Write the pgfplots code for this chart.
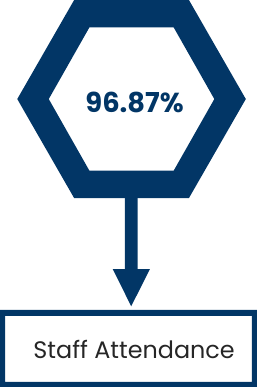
\documentclass[border=0pt]{standalone}
\usepackage{pgfplots}
\pgfplotsset{compat=1.18}
\usepackage{fontspec}
\setmainfont{Poppins}
\newfontfamily\popbold{Poppins}[UprightFont=* Bold]
\definecolor{navy}{RGB}{2,54,102}
\begin{document}
\begin{tikzpicture}
\begin{axis}[
  width=253pt, height=387pt, scale only axis,
  xmin=0, xmax=253, ymin=0, ymax=387, y dir=reverse,
  hide axis, clip=false, unbounded coords=jump,
]
% hexagon ring (outer and inner outline)
\addplot[fill=navy, draw=none, even odd rule] coordinates {
  (73,6) (186,6) (242,103.5) (186,201) (73,201) (17,103.5) (73,6)
  (nan,nan)
  (88,33) (171,33) (211,103.5) (171,174) (88,174) (48,103.5) (88,33)
};
% arrow
\addplot[fill=navy, draw=none] coordinates {
  (123,200) (135.5,200) (135.5,271) (147.5,271) (129.2,307.5) (111,271) (123,271) (123,200)
};
% label box border
\addplot[fill=navy, draw=none, even odd rule] coordinates {
  (0,311) (253,311) (253,387) (0,387) (0,311)
  (nan,nan)
  (5,317) (248,317) (248,382) (5,382) (5,317)
};
\node[text=navy, font=\popbold\fontsize{27}{27}\selectfont] at (axis cs:132.5,107) {96.87\%};
\node[text=black!85, font=\fontsize{23.5}{23.5}\selectfont] at (axis cs:132,350) {Staff Attendance};
\end{axis}
\end{tikzpicture}
\end{document}
